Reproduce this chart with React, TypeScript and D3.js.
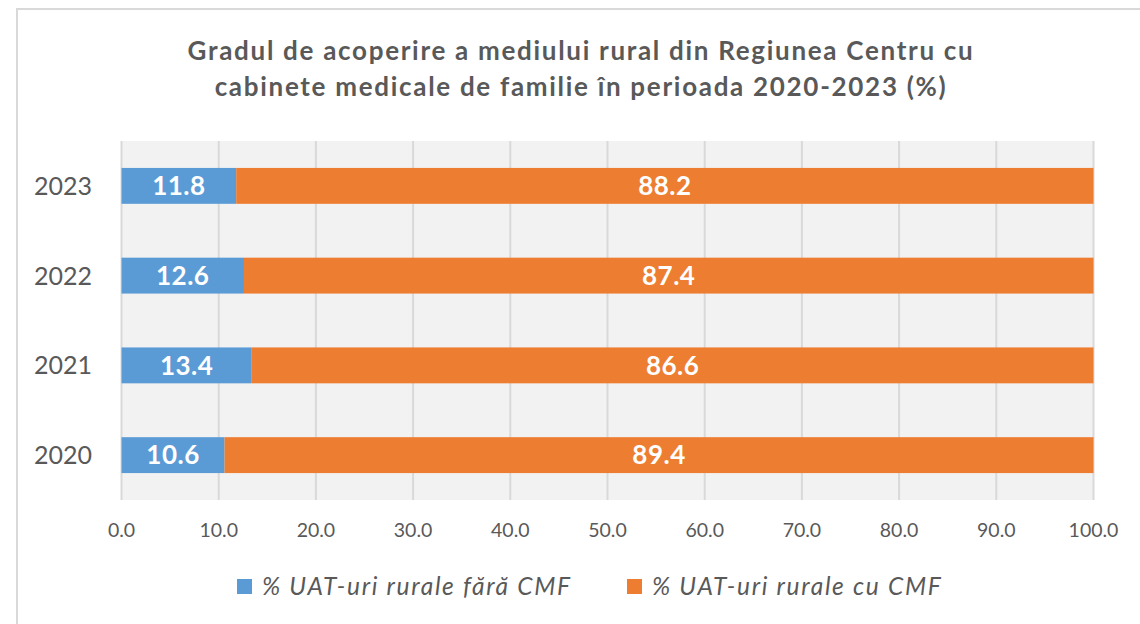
import React from "react";
import * as d3 from "d3";

const years = ["2023", "2022", "2021", "2020"];
const withoutCMF = [11.8, 12.6, 13.4, 10.6];
const withCMF = [88.2, 87.4, 86.6, 89.4];
const xTicks = [0, 10, 20, 30, 40, 50, 60, 70, 80, 90, 100];
const seriesNames = ["% UAT-uri rurale fără CMF", "% UAT-uri rurale cu CMF"];
const colors = ["#5B9BD5", "#ED7D31"];
const titleLines = [
  "Gradul de acoperire a mediului rural din Regiunea Centru cu",
  "cabinete medicale de familie în perioada 2020-2023 (%)",
];

const W = 1140;
const H = 624;
const plot = { left: 121.5, right: 1093.5, top: 141, bottom: 500 };
const FONT = "Lato, 'Open Sans', sans-serif";

export default function App() {
  const x = d3.scaleLinear().domain([0, 100]).range([plot.left, plot.right]);
  const y = d3
    .scaleBand<string>()
    .domain(years)
    .range([plot.top, plot.bottom])
    .paddingInner(0.6)
    .paddingOuter(0.3);

  const stackData = years.map((yr, i) => ({ year: yr, a: withoutCMF[i], b: withCMF[i] }));
  const stack = d3.stack<any>().keys(["a", "b"])(stackData);

  return (
    <svg
      width={W}
      height={H}
      style={{ position: "absolute", left: 0, top: 0, background: "#fff" }}
      fontFamily={FONT}
    >
      <rect x={17} y={9} width={W + 10} height={H} fill="#fff" stroke="#D9D9D9" strokeWidth={2} />
      {titleLines.map((t, i) => (
        <text
          key={i}
          x={581}
          y={60 + i * 36}
          textAnchor="middle"
          fontSize={26}
          fontWeight="bold"
          letterSpacing={1.7}
          fill="#595959"
        >
          {t}
        </text>
      ))}
      <rect
        x={plot.left}
        y={plot.top}
        width={plot.right - plot.left}
        height={plot.bottom - plot.top}
        fill="#F2F2F2"
      />
      {xTicks.map((t) => (
        <line
          key={t}
          x1={x(t)}
          x2={x(t)}
          y1={plot.top}
          y2={plot.bottom}
          stroke="#D9D9D9"
          strokeWidth={2}
        />
      ))}
      {stack.map((s, si) =>
        s.map((d: any, i: number) => {
          const x0 = x(d[0]);
          const x1 = x(d[1]);
          const yy = y(d.data.year)!;
          return (
            <g key={`${si}-${i}`}>
              <rect x={x0} y={yy} width={x1 - x0} height={y.bandwidth()} fill={colors[si]} />
              <text
                x={(x0 + x1) / 2}
                y={yy + y.bandwidth() / 2}
                dy="0.36em"
                textAnchor="middle"
                fontSize={26}
                fontWeight="bold"
                letterSpacing={0.5}
                fill="#fff"
              >
                {(d[1] - d[0]).toFixed(1)}
              </text>
            </g>
          );
        })
      )}
      {years.map((yr) => (
        <text
          key={yr}
          x={92}
          y={y(yr)! + y.bandwidth() / 2}
          dy="0.36em"
          textAnchor="end"
          fontSize={25}
          fill="#595959"
        >
          {yr}
        </text>
      ))}
      {xTicks.map((t) => (
        <text
          key={t}
          x={x(t)}
          y={530}
          dy="0.36em"
          textAnchor="middle"
          fontSize={19.5}
          fill="#595959"
        >
          {t.toFixed(1)}
        </text>
      ))}
      {seriesNames.map((n, i) => {
        const lx = [237, 627][i];
        return (
          <g key={n}>
            <rect x={lx} y={579} width={15} height={15} fill={colors[i]} />
            <text
              x={lx + 25}
              y={595}
              fontSize={24.5}
              fontStyle="italic"
              letterSpacing={1.7}
              fill="#595959"
            >
              {n}
            </text>
          </g>
        );
      })}
    </svg>
  );
}
